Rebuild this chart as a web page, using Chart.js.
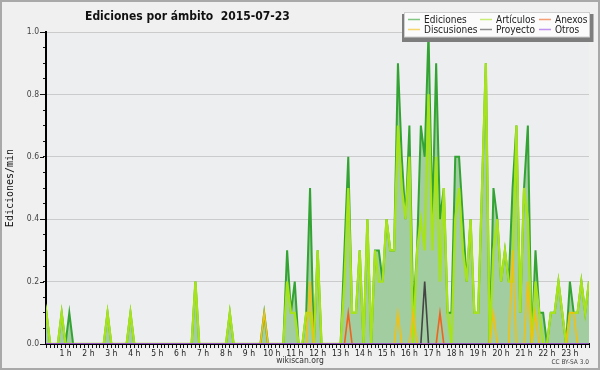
<!DOCTYPE html>
<html>
<head>
<meta charset="utf-8">
<script src="https://cdn.jsdelivr.net/npm/chart.js@4"></script>
<style>
  html, body { margin: 0; padding: 0; background: #f0f0f0; }
  #wrap { width: 600px; height: 370px; }
</style>
</head>
<body>
<div id="wrap"><canvas id="chart" width="600" height="370"></canvas></div>
<script>
const chartTitle = "Ediciones por ámbito  2015-07-23";
const yTitle = "Ediciones/min";
const footer = "wikiscan.org";
const licence = "CC BY-SA 3.0";

const hourLabels = ["1 h", "2 h", "3 h", "4 h", "5 h", "6 h", "7 h", "8 h", "9 h", "10 h", "11 h", "12 h",
  "13 h", "14 h", "15 h", "16 h", "17 h", "18 h", "19 h", "20 h", "21 h", "22 h", "23 h"];
const yTicks = [0, 0.2, 0.4, 0.6, 0.8, 1.0];

// one slot = 10 minutes, slot 0 = 00:00
const slots = Array.from({ length: 144 }, (_, i) => i);

// edits per minute, one row = 2 hours
const ediciones = [
  0, .1, 0, 0, 0, .1, 0, .1, 0, 0, 0, 0,
  0, 0, 0, 0, 0, .1, 0, 0, 0, 0, 0, .1,
  0, 0, 0, 0, 0, 0, 0, 0, 0, 0, 0, 0,
  0, 0, 0, 0, .2, 0, 0, 0, 0, 0, 0, 0,
  0, .1, 0, 0, 0, 0, 0, 0, 0, 0, .1, 0,
  0, 0, 0, 0, .3, .1, .2, 0, 0, .1, .5, 0,
  .3, 0, 0, 0, 0, 0, 0, .3, .6, .1, .1, .3,
  0, .4, 0, .3, .3, .2, .4, .3, .3, .9, .6, .4,
  .7, .1, .3, .7, .6, 1.0, .4, .9, .4, .5, .1, .1,
  .6, .6, .4, .2, .4, .1, .1, .5, .9, 0, .5, .4,
  .2, .3, .2, .5, .7, .1, .5, .7, 0, .3, .1, .1,
  0, .1, .1, .2, .1, 0, .2, .1, .1, .2, .1, .2
];
const articulos = [
  0, .1, 0, 0, 0, .1, 0, 0, 0, 0, 0, 0,
  0, 0, 0, 0, 0, .1, 0, 0, 0, 0, 0, .1,
  0, 0, 0, 0, 0, 0, 0, 0, 0, 0, 0, 0,
  0, 0, 0, 0, .2, 0, 0, 0, 0, 0, 0, 0,
  0, .1, 0, 0, 0, 0, 0, 0, 0, 0, 0, 0,
  0, 0, 0, 0, .2, .1, .1, 0, 0, .1, .1, 0,
  .3, 0, 0, 0, 0, 0, 0, .2, .5, .1, .1, .3,
  0, .4, 0, .3, .2, .2, .4, .3, .3, .7, .5, .4,
  .6, 0, .3, .4, .3, .8, .3, .6, .2, .5, .1, 0,
  .4, .5, .3, .2, .4, .1, .1, .5, .9, 0, .3, .4,
  .2, .3, .2, .2, .7, .1, .5, .4, 0, .2, .1, 0,
  0, .1, .1, .2, .1, 0, .1, .1, .1, .2, .1, .2
];
const anexos = [
  0, 0, 0, 0, 0, 0, 0, 0, 0, 0, 0, 0,
  0, 0, 0, 0, 0, 0, 0, 0, 0, 0, 0, 0,
  0, 0, 0, 0, 0, 0, 0, 0, 0, 0, 0, 0,
  0, 0, 0, 0, 0, 0, 0, 0, 0, 0, 0, 0,
  0, 0, 0, 0, 0, 0, 0, 0, 0, 0, 0, 0,
  0, 0, 0, 0, 0, 0, 0, 0, 0, 0, 0, 0,
  0, 0, 0, 0, 0, 0, 0, 0, .1, 0, 0, 0,
  0, 0, 0, 0, 0, 0, 0, 0, 0, 0, 0, 0,
  0, 0, 0, 0, 0, 0, 0, 0, .1, 0, 0, 0,
  0, 0, 0, 0, 0, 0, 0, 0, 0, 0, 0, 0,
  0, 0, 0, 0, 0, 0, 0, 0, 0, 0, 0, 0,
  0, 0, 0, 0, 0, 0, 0, 0, 0, 0, 0, 0
];
const discusiones = [
  0, 0, 0, 0, 0, 0, 0, 0, 0, 0, 0, 0,
  0, 0, 0, 0, 0, 0, 0, 0, 0, 0, 0, 0,
  0, 0, 0, 0, 0, 0, 0, 0, 0, 0, 0, 0,
  0, 0, 0, 0, 0, 0, 0, 0, 0, 0, 0, 0,
  0, 0, 0, 0, 0, 0, 0, 0, 0, 0, .1, 0,
  0, 0, 0, 0, 0, 0, 0, 0, 0, 0, .2, 0,
  0, 0, 0, 0, 0, 0, 0, 0, 0, 0, 0, 0,
  0, 0, 0, 0, 0, 0, 0, 0, 0, .1, 0, 0,
  0, .1, 0, 0, 0, 0, 0, 0, 0, 0, 0, 0,
  0, 0, 0, 0, 0, 0, 0, 0, 0, 0, .1, 0,
  0, 0, 0, .3, 0, 0, 0, .2, 0, .1, 0, 0,
  0, 0, 0, 0, 0, 0, .1, .1, 0, 0, 0, 0
];
const proyecto = [
  0, 0, 0, 0, 0, 0, 0, 0, 0, 0, 0, 0,
  0, 0, 0, 0, 0, 0, 0, 0, 0, 0, 0, 0,
  0, 0, 0, 0, 0, 0, 0, 0, 0, 0, 0, 0,
  0, 0, 0, 0, 0, 0, 0, 0, 0, 0, 0, 0,
  0, 0, 0, 0, 0, 0, 0, 0, 0, 0, 0, 0,
  0, 0, 0, 0, 0, 0, 0, 0, 0, 0, 0, 0,
  0, 0, 0, 0, 0, 0, 0, 0, 0, 0, 0, 0,
  0, 0, 0, 0, 0, 0, 0, 0, 0, 0, 0, 0,
  0, 0, 0, 0, .2, 0, 0, 0, 0, 0, 0, 0,
  0, 0, 0, 0, 0, 0, 0, 0, 0, 0, 0, 0,
  0, 0, 0, 0, 0, 0, 0, 0, 0, 0, 0, 0,
  0, 0, 0, 0, 0, 0, 0, 0, 0, 0, 0, 0
];
const otros = [
  0, 0, 0, 0, 0, 0, 0, 0, 0, 0, 0, 0,
  0, 0, 0, 0, 0, 0, 0, 0, 0, 0, 0, 0,
  0, 0, 0, 0, 0, 0, 0, 0, 0, 0, 0, 0,
  0, 0, 0, 0, 0, 0, 0, 0, 0, 0, 0, 0,
  0, 0, 0, 0, 0, 0, 0, 0, 0, 0, 0, 0,
  0, 0, 0, 0, 0, 0, 0, 0, 0, 0, 0, 0,
  0, 0, 0, 0, 0, 0, 0, 0, 0, 0, 0, 0,
  0, 0, 0, 0, 0, 0, 0, 0, 0, 0, 0, 0,
  0, 0, 0, 0, 0, 0, 0, 0, 0, 0, 0, 0,
  0, 0, 0, 0, 0, 0, 0, 0, 0, 0, 0, 0,
  0, 0, 0, 0, 0, 0, 0, 0, 0, 0, 0, 0,
  0, 0, 0, 0, 0, 0, 0, 0, 0, 0, 0, 0
];

const FONT = "'DejaVu Sans Condensed', 'DejaVu Sans'";

function points(values) {
  return slots.map((s, i) => ({ x: s, y: values[i] }));
}

function series(label, values, color, order, extra) {
  return Object.assign({
    label: label,
    data: points(values),
    borderColor: color,
    borderWidth: 1.6,
    pointRadius: 0,
    tension: 0,
    fill: false,
    order: order
  }, extra || {});
}

// title, legend box, footer and the bits chart.js does not draw
const decor = {
  id: "decor",
  beforeDraw(chart) {
    const { ctx, chartArea: a } = chart;
    ctx.save();
    ctx.fillStyle = "#f0f0f0";
    ctx.fillRect(0, 0, chart.width, chart.height);
    ctx.fillStyle = "#edeef0";
    ctx.fillRect(a.left, a.top, a.right - a.left, a.bottom - a.top);
    ctx.restore();
  },
  afterDraw(chart) {
    const { ctx, chartArea: a } = chart;
    const y = chart.scales.y;
    ctx.save();

    // longer marks on the labelled y ticks
    ctx.strokeStyle = "#111";
    ctx.lineWidth = 1;
    yTicks.forEach(v => {
      const py = Math.round(y.getPixelForValue(v)) + 0.5;
      ctx.beginPath();
      ctx.moveTo(a.left - 6, py);
      ctx.lineTo(a.left - 2, py);
      ctx.stroke();
    });

    // frame
    ctx.strokeStyle = "#a9a9a9";
    ctx.lineWidth = 2;
    ctx.strokeRect(1, 1, chart.width - 2, chart.height - 2);

    // title
    ctx.fillStyle = "#111";
    ctx.font = "bold 12px " + FONT;
    ctx.textBaseline = "alphabetic";
    ctx.textAlign = "left";
    ctx.fillText(chartTitle, 85, 19.5);

    // y title
    ctx.save();
    ctx.translate(13, (a.top + a.bottom) / 2);
    ctx.rotate(-Math.PI / 2);
    ctx.textAlign = "center";
    ctx.font = "10px 'DejaVu Sans Mono'";
    ctx.fillStyle = "#111";
    ctx.fillText(yTitle, 0, 0);
    ctx.restore();

    // footer
    ctx.font = "8.5px " + FONT;
    ctx.fillStyle = "#333";
    ctx.textAlign = "center";
    ctx.fillText(footer, 300, 363);
    ctx.font = "6.5px " + FONT;
    ctx.fillStyle = "#444";
    ctx.textAlign = "right";
    ctx.fillText(licence, 589, 364);

    // legend box with shadow
    ctx.fillStyle = "#7d7d7d";
    ctx.fillRect(402, 14, 191.5, 28);
    ctx.fillStyle = "#fbfbfb";
    ctx.fillRect(404.5, 12, 185, 25);
    ctx.strokeStyle = "#cfcfcf";
    ctx.lineWidth = 1;
    ctx.strokeRect(404.5, 12.5, 185, 24.5);

    const colX = [408, 480, 539];
    const rowY = [19.5, 29.5];
    ctx.font = "10px " + FONT;
    ctx.textAlign = "left";
    chart.data.datasets.forEach((ds, i) => {
      const cx = colX[i % 3];
      const cy = rowY[Math.floor(i / 3)];
      ctx.globalAlpha = 0.6;
      ctx.strokeStyle = ds.borderColor;
      ctx.lineWidth = 1.5;
      ctx.beginPath();
      ctx.moveTo(cx, cy);
      ctx.lineTo(cx + 12, cy);
      ctx.stroke();
      ctx.globalAlpha = 1;
      ctx.fillStyle = "#222";
      ctx.fillText(ds.label, cx + 16, cy + 3.2);
    });

    ctx.restore();
  }
};

const isMajor = v => Math.abs(v * 5 - Math.round(v * 5)) < 1e-6;

new Chart(document.getElementById("chart"), {
  type: "line",
  data: {
    datasets: [
      series("Ediciones", ediciones, "#33a333", 6, { fill: "origin", backgroundColor: "#a1cda1", borderWidth: 2 }),
      series("Artículos", articulos, "#a6e31b", 5, { borderWidth: 2.3 }),
      series("Anexos", anexos, "#f0621e", 4),
      series("Discusiones", discusiones, "#f4c010", 3),
      series("Proyecto", proyecto, "#454545", 2),
      series("Otros", otros, "#9b4dea", 1)
    ]
  },
  options: {
    responsive: false,
    animation: false,
    layout: { padding: { top: 32, right: 11, left: 0, bottom: 0 } },
    plugins: {
      legend: { display: false },
      title: { display: false },
      tooltip: { enabled: false }
    },
    scales: {
      x: {
        type: "linear",
        min: 0.9,
        max: 143,
        afterFit: s => { s.height = 26; },
        afterBuildTicks: s => { s.ticks = slots.filter(v => v >= 1).map(v => ({ value: v })); },
        border: { color: "#000", width: 2 },
        grid: { drawOnChartArea: false, tickLength: 4, tickColor: "#111" },
        ticks: {
          autoSkip: false,
          maxRotation: 0,
          padding: 1,
          color: "#222",
          font: { family: FONT, size: 8.5 },
          callback: v => (v % 6 === 0 && v > 0 && v < 144) ? hourLabels[v / 6 - 1] : ""
        }
      },
      y: {
        min: 0,
        max: 1,
        afterFit: s => { s.width = 46; },
        border: { color: "#000", width: 2 },
        grid: {
          tickLength: 3,
          tickColor: "#111",
          color: c => (c.tick && isMajor(c.tick.value) && c.tick.value > 0) ? "#cbcbcb" : "rgba(0,0,0,0)"
        },
        ticks: {
          stepSize: 0.05,
          autoSkip: false,
          padding: 4,
          color: "#444",
          font: { family: FONT, size: 8.5 },
          callback: v => isMajor(v) ? v.toFixed(1) : ""
        }
      }
    }
  },
  plugins: [decor]
});
</script>
</body>
</html>
